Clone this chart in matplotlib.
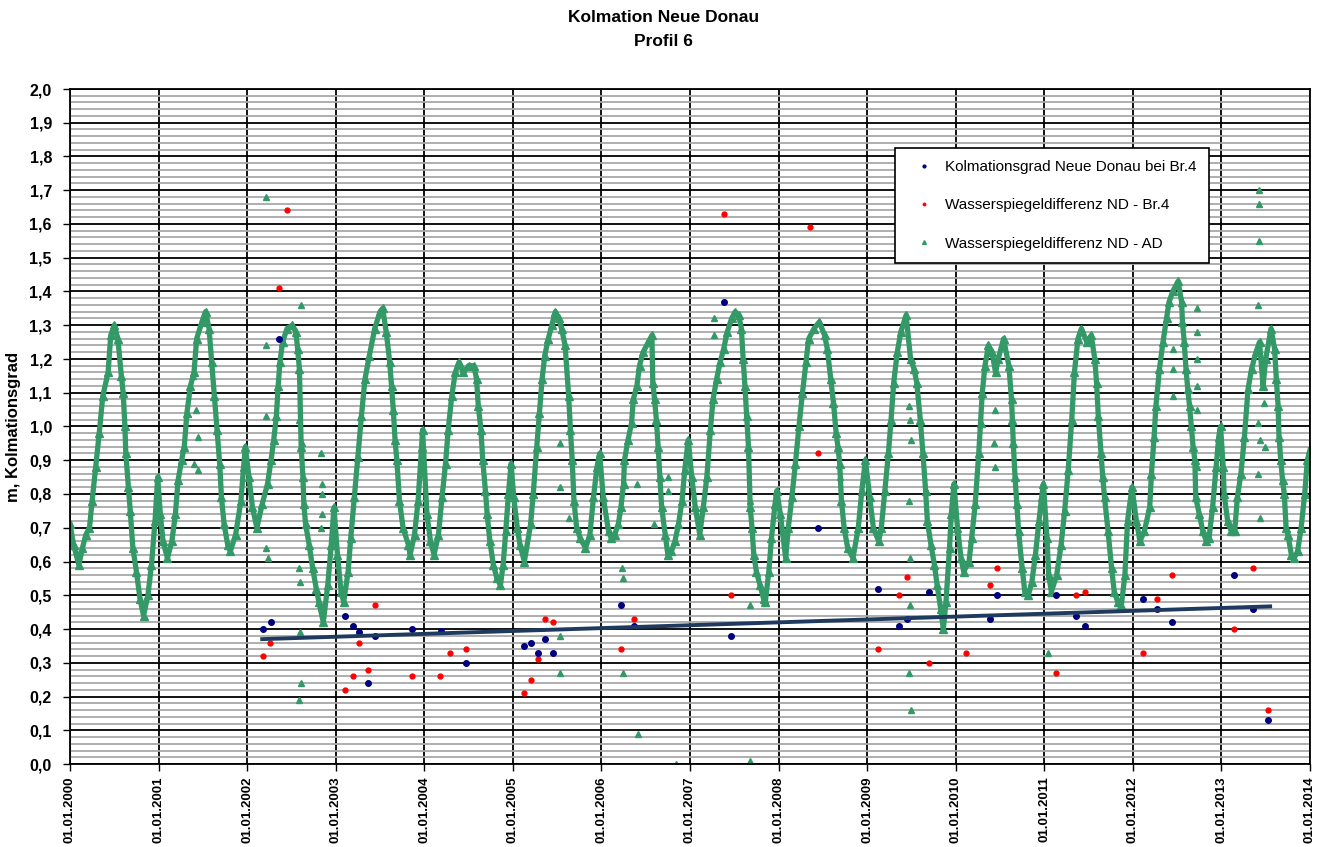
import matplotlib.pyplot as plt
from matplotlib.ticker import MultipleLocator, FixedLocator

plt.rcParams['font.family'] = ['Liberation Sans', 'DejaVu Sans']

# Wasserspiegeldifferenz ND - AD (main seasonal curve)
ad_year = [
    2000.00, 2000.04, 2000.10, 2000.14, 2000.18, 2000.22, 2000.25, 2000.29, 2000.33, 2000.37,
    2000.43, 2000.46, 2000.50, 2000.54, 2000.58, 2000.60, 2000.62, 2000.63, 2000.66, 2000.68,
    2000.71, 2000.75, 2000.79, 2000.83, 2000.88, 2000.92, 2000.96, 2000.99, 2001.02, 2001.05,
    2001.10, 2001.15, 2001.19, 2001.22, 2001.26, 2001.29, 2001.32, 2001.36, 2001.40, 2001.43,
    2001.49, 2001.53, 2001.57, 2001.60, 2001.63, 2001.66, 2001.69, 2001.71, 2001.74, 2001.78,
    2001.81, 2001.87, 2001.93, 2001.96, 2001.98, 2002.02, 2002.06, 2002.11, 2002.17, 2002.23,
    2002.27, 2002.30, 2002.33, 2002.35, 2002.37, 2002.40, 2002.45, 2002.51, 2002.55, 2002.57,
    2002.59, 2002.61, 2002.63, 2002.64, 2002.66, 2002.70, 2002.74, 2002.78, 2002.81, 2002.86,
    2002.91, 2002.95, 2002.98, 2003.02, 2003.06, 2003.09, 2003.14, 2003.17, 2003.21, 2003.25,
    2003.29, 2003.33, 2003.38, 2003.44, 2003.50, 2003.53, 2003.57, 2003.61, 2003.63, 2003.65,
    2003.67, 2003.69, 2003.72, 2003.76, 2003.82, 2003.84, 2003.89, 2003.93, 2003.97, 2003.98,
    2004.03, 2004.07, 2004.11, 2004.16, 2004.20, 2004.24, 2004.27, 2004.31, 2004.35, 2004.39,
    2004.44, 2004.50, 2004.56, 2004.59, 2004.61, 2004.64, 2004.66, 2004.69, 2004.71, 2004.74,
    2004.78, 2004.82, 2004.86, 2004.89, 2004.92, 2004.95, 2004.98, 2005.01, 2005.05, 2005.08,
    2005.13, 2005.20, 2005.23, 2005.27, 2005.30, 2005.33, 2005.36, 2005.40, 2005.44, 2005.48,
    2005.52, 2005.55, 2005.59, 2005.63, 2005.65, 2005.67, 2005.69, 2005.72, 2005.76, 2005.82,
    2005.87, 2005.91, 2005.95, 2005.98, 2006.02, 2006.08, 2006.11, 2006.15, 2006.19, 2006.22,
    2006.25, 2006.26, 2006.30, 2006.34, 2006.36, 2006.40, 2006.43, 2006.47, 2006.53, 2006.57,
    2006.58, 2006.60, 2006.62, 2006.64, 2006.66, 2006.68, 2006.72, 2006.75, 2006.79, 2006.83,
    2006.87, 2006.91, 2006.94, 2006.98, 2007.02, 2007.06, 2007.11, 2007.15, 2007.19, 2007.23,
    2007.26, 2007.30, 2007.34, 2007.38, 2007.42, 2007.47, 2007.51, 2007.55, 2007.58, 2007.60,
    2007.62, 2007.64, 2007.66, 2007.68, 2007.70, 2007.72, 2007.75, 2007.79, 2007.83, 2007.85,
    2007.89, 2007.92, 2007.96, 2007.98, 2008.02, 2008.08, 2008.11, 2008.15, 2008.19, 2008.23,
    2008.27, 2008.31, 2008.34, 2008.40, 2008.46, 2008.52, 2008.55, 2008.59, 2008.62, 2008.65,
    2008.67, 2008.69, 2008.71, 2008.74, 2008.78, 2008.84, 2008.90, 2008.94, 2008.98, 2009.03,
    2009.07, 2009.13, 2009.16, 2009.20, 2009.24, 2009.27, 2009.30, 2009.34, 2009.38, 2009.44,
    2009.49, 2009.53, 2009.56, 2009.60, 2009.63, 2009.66, 2009.68, 2009.72, 2009.76, 2009.79,
    2009.83, 2009.86, 2009.89, 2009.93, 2009.95, 2009.98, 2010.02, 2010.06, 2010.09, 2010.15,
    2010.18, 2010.22, 2010.26, 2010.28, 2010.30, 2010.33, 2010.37, 2010.41, 2010.45, 2010.48,
    2010.54, 2010.60, 2010.63, 2010.64, 2010.65, 2010.67, 2010.69, 2010.71, 2010.75, 2010.78,
    2010.82, 2010.86, 2010.90, 2010.94, 2010.97, 2010.99, 2011.03, 2011.05, 2011.08, 2011.14,
    2011.19, 2011.23, 2011.27, 2011.31, 2011.34, 2011.38, 2011.42, 2011.48, 2011.53, 2011.57,
    2011.59, 2011.61, 2011.64, 2011.66, 2011.68, 2011.72, 2011.76, 2011.79, 2011.83, 2011.87,
    2011.91, 2011.94, 2011.99, 2012.04, 2012.08, 2012.13, 2012.19, 2012.21, 2012.24, 2012.26,
    2012.30, 2012.34, 2012.38, 2012.41, 2012.45, 2012.51, 2012.55, 2012.56, 2012.58, 2012.60,
    2012.62, 2012.64, 2012.66, 2012.68, 2012.70, 2012.71, 2012.75, 2012.79, 2012.83, 2012.86,
    2012.90, 2012.94, 2012.97, 2012.99, 2013.02, 2013.03, 2013.07, 2013.11, 2013.15, 2013.18,
    2013.22, 2013.26, 2013.30, 2013.34, 2013.39, 2013.43, 2013.47, 2013.50, 2013.56, 2013.60,
    2013.62, 2013.64, 2013.65, 2013.67, 2013.69, 2013.71, 2013.73, 2013.75, 2013.79, 2013.82,
    2013.86, 2013.90, 2013.94, 2013.97, 2014.00,
]
ad_val = [
    0.71, 0.65, 0.59, 0.64, 0.68, 0.70, 0.78, 0.88, 0.98, 1.09,
    1.16, 1.27, 1.30, 1.26, 1.15, 1.10, 1.00, 0.92, 0.82, 0.75,
    0.64, 0.57, 0.49, 0.44, 0.50, 0.59, 0.72, 0.85, 0.74, 0.66,
    0.61, 0.66, 0.74, 0.84, 0.90, 0.94, 1.04, 1.12, 1.16, 1.26,
    1.31, 1.34, 1.29, 1.19, 1.09, 0.99, 0.89, 0.79, 0.71, 0.65,
    0.63, 0.68, 0.78, 0.88, 0.94, 0.85, 0.76, 0.70, 0.77, 0.83,
    0.90, 0.96, 1.03, 1.12, 1.19, 1.25, 1.29, 1.30, 1.28, 1.23,
    1.17, 0.94, 0.85, 0.77, 0.71, 0.65, 0.58, 0.52, 0.48, 0.42,
    0.53, 0.65, 0.76, 0.62, 0.51, 0.48, 0.57, 0.67, 0.79, 0.91,
    1.03, 1.14, 1.21, 1.29, 1.34, 1.35, 1.28, 1.19, 1.12, 1.05,
    0.96, 0.90, 0.78, 0.70, 0.65, 0.62, 0.68, 0.78, 0.94, 0.99,
    0.74, 0.66, 0.62, 0.68, 0.79, 0.89, 0.99, 1.09, 1.16, 1.19,
    1.16, 1.18, 1.18, 1.14, 1.06, 0.99, 0.90, 0.81, 0.74, 0.66,
    0.59, 0.55, 0.53, 0.59, 0.69, 0.80, 0.89, 0.79, 0.70, 0.65,
    0.60, 0.71, 0.80, 0.94, 1.04, 1.14, 1.21, 1.26, 1.30, 1.34,
    1.32, 1.29, 1.24, 1.09, 0.99, 0.90, 0.78, 0.70, 0.67, 0.64,
    0.68, 0.79, 0.88, 0.92, 0.79, 0.69, 0.67, 0.68, 0.71, 0.76,
    0.83, 0.90, 0.96, 1.01, 1.08, 1.12, 1.18, 1.22, 1.25, 1.27,
    1.13, 1.08, 1.02, 0.94, 0.85, 0.76, 0.68, 0.62, 0.63, 0.66,
    0.71, 0.78, 0.87, 0.96, 0.85, 0.76, 0.68, 0.76, 0.85, 0.99,
    1.08, 1.14, 1.19, 1.23, 1.28, 1.32, 1.34, 1.33, 1.29, 1.20,
    1.12, 1.03, 0.94, 0.76, 0.70, 0.62, 0.57, 0.53, 0.49, 0.48,
    0.57, 0.67, 0.77, 0.81, 0.74, 0.61, 0.70, 0.79, 0.89, 1.00,
    1.10, 1.19, 1.26, 1.29, 1.31, 1.27, 1.23, 1.14, 1.07, 0.98,
    0.94, 0.89, 0.78, 0.70, 0.64, 0.61, 0.70, 0.81, 0.90, 0.79,
    0.70, 0.66, 0.70, 0.81, 0.92, 1.02, 1.13, 1.22, 1.28, 1.33,
    1.20, 1.17, 1.13, 1.02, 0.92, 0.81, 0.72, 0.65, 0.59, 0.53,
    0.46, 0.40, 0.48, 0.64, 0.74, 0.83, 0.70, 0.61, 0.57, 0.60,
    0.67, 0.77, 0.92, 1.01, 1.10, 1.18, 1.24, 1.22, 1.16, 1.20,
    1.26, 1.18, 1.08, 1.02, 0.95, 0.85, 0.77, 0.69, 0.58, 0.51,
    0.50, 0.54, 0.62, 0.72, 0.79, 0.83, 0.67, 0.56, 0.51, 0.56,
    0.65, 0.75, 0.87, 1.02, 1.16, 1.26, 1.29, 1.25, 1.27, 1.20,
    1.13, 1.03, 0.92, 0.85, 0.79, 0.69, 0.58, 0.51, 0.48, 0.47,
    0.56, 0.72, 0.82, 0.72, 0.66, 0.69, 0.76, 0.86, 0.97, 1.06,
    1.17, 1.25, 1.32, 1.37, 1.40, 1.43, 1.37, 1.31, 1.25, 1.17,
    1.11, 1.06, 1.00, 0.94, 0.90, 0.79, 0.74, 0.69, 0.66, 0.67,
    0.76, 0.88, 0.97, 1.00, 0.88, 0.80, 0.72, 0.69, 0.69, 0.79,
    0.86, 0.97, 1.11, 1.17, 1.22, 1.25, 1.12, 1.20, 1.29, 1.23,
    1.14, 1.06, 0.97, 0.90, 0.84, 0.80, 0.70, 0.68, 0.62, 0.61,
    0.63, 0.70, 0.80, 0.90, 0.93,
]

# scattered single readings of the ND - AD series
ad_out_year = [
    2001.39, 2001.42, 2001.45, 2001.40, 2001.44,
    2002.21, 2002.61, 2002.21, 2002.21, 2002.59, 2002.62, 2002.83, 2002.84, 2002.84, 2002.85,
    2002.83, 2002.21, 2002.23, 2002.59, 2002.60, 2002.60, 2002.61, 2002.59,
    2005.53, 2005.53, 2005.63, 2005.53, 2005.53,
    2006.23, 2006.24, 2006.24, 2006.41, 2006.84, 2006.40, 2006.59, 2006.75, 2006.75,
    2007.27, 2007.27, 2007.68, 2007.68, 2007.68, 2008.69,
    2009.47, 2009.48, 2009.49, 2009.47, 2009.48, 2009.48, 2009.47, 2009.49,
    2010.44, 2010.43, 2010.44, 2011.04,
    2012.45, 2012.45, 2012.45, 2012.72, 2012.72, 2012.72, 2012.72, 2012.72, 2012.72,
    2013.42, 2013.42, 2013.42, 2013.41, 2013.41, 2013.43, 2013.41, 2013.43, 2013.48, 2013.49,
]
ad_out_val = [
    1.15, 1.05, 0.97, 0.89, 0.87,
    1.68, 1.36, 1.24, 1.03, 1.02, 0.95, 0.92, 0.83, 0.80, 0.74,
    0.70, 0.64, 0.61, 0.58, 0.54, 0.39, 0.24, 0.19,
    0.95, 0.82, 0.73, 0.38, 0.27,
    0.58, 0.55, 0.27, 0.09, 0.00, 0.83, 0.71, 0.85, 0.81,
    1.32, 1.27, 0.78, 0.47, 0.01, 0.85,
    1.06, 1.02, 0.96, 0.78, 0.61, 0.47, 0.27, 0.16,
    1.05, 0.95, 0.88, 0.33,
    1.23, 1.17, 1.09, 1.35, 1.28, 1.20, 1.12, 1.05, 0.88,
    1.70, 1.66, 1.55, 1.36, 1.01, 0.96, 0.86, 0.73, 1.07, 0.94,
]

# Kolmationsgrad Neue Donau bei Br.4
kolm_year = [
    2002.18, 2002.27, 2002.36, 2003.11, 2003.19, 2003.26, 2003.36, 2003.44, 2003.86, 2004.19,
    2004.47, 2005.13, 2005.21, 2005.28, 2005.36, 2005.45, 2006.22, 2006.37, 2007.38, 2007.46,
    2008.44, 2009.12, 2009.36, 2009.45, 2009.70, 2010.39, 2010.47, 2011.13, 2011.36, 2011.46,
    2012.12, 2012.27, 2012.44, 2013.14, 2013.36, 2013.53,
]
kolm_val = [
    0.40, 0.42, 1.26, 0.44, 0.41, 0.39, 0.24, 0.38, 0.40, 0.395,
    0.30, 0.35, 0.36, 0.33, 0.37, 0.33, 0.47, 0.41, 1.37, 0.38,
    0.70, 0.52, 0.41, 0.43, 0.51, 0.43, 0.50, 0.50, 0.44, 0.41,
    0.49, 0.46, 0.42, 0.56, 0.46, 0.13,
]

# Wasserspiegeldifferenz ND - Br.4
br4_year = [
    2002.18, 2002.26, 2002.36, 2002.45, 2003.11, 2003.19, 2003.26, 2003.36, 2003.44, 2003.86,
    2004.18, 2004.29, 2004.47, 2005.13, 2005.21, 2005.28, 2005.36, 2005.45, 2006.22, 2006.37,
    2007.38, 2007.46, 2008.35, 2008.44, 2009.12, 2009.36, 2009.45, 2009.70, 2010.12, 2010.39,
    2010.47, 2011.13, 2011.36, 2011.46, 2012.12, 2012.27, 2012.44, 2013.14, 2013.36, 2013.53,
]
br4_val = [
    0.32, 0.36, 1.41, 1.64, 0.22, 0.26, 0.36, 0.28, 0.47, 0.26,
    0.26, 0.33, 0.34, 0.21, 0.25, 0.31, 0.43, 0.42, 0.34, 0.43,
    1.63, 0.50, 1.59, 0.92, 0.34, 0.50, 0.555, 0.30, 0.33, 0.53,
    0.58, 0.27, 0.50, 0.51, 0.33, 0.49, 0.56, 0.40, 0.58, 0.16,
]

# linear trend of Kolmationsgrad
trend_year = [2002.17, 2013.55]
trend_val = [0.37, 0.467]

years = list(range(2000, 2015))
year_labels = [f"01.01.{y}" for y in years]

green = '#339966'

fig = plt.figure(figsize=(13.27, 8.47), dpi=100)
ax = fig.add_axes([70 / 1327, 1 - 764 / 847, 1240 / 1327, 675 / 847])

ax.set_xlim(2000, 2014)
ax.set_ylim(0, 2.0)

# grid
ax.yaxis.set_major_locator(MultipleLocator(0.1))
ax.yaxis.set_minor_locator(MultipleLocator(0.02))
ax.xaxis.set_major_locator(FixedLocator(years))
ax.grid(True, which='minor', axis='y', color='#a8a8a8', lw=1.3, zorder=0)
ax.grid(True, which='major', axis='y', color='black', lw=1.3, zorder=0)
ax.grid(True, which='major', axis='x', color='black', lw=1.3, zorder=0)
ax.set_axisbelow(True)

ax.plot(ad_year, ad_val, color=green, lw=3.8, zorder=2)
ax.plot(ad_year, ad_val, '^', color=green, ms=5.5, zorder=2,
        label='Wasserspiegeldifferenz ND - AD')
ax.plot(ad_out_year, ad_out_val, '^', color=green, ms=5, zorder=2)

ax.plot(br4_year, br4_val, 'o', color='#ff0000', ms=3.5, zorder=3,
        label='Wasserspiegeldifferenz ND - Br.4')
ax.plot(kolm_year, kolm_val, 'o', color='#000080', ms=4, zorder=3,
        label='Kolmationsgrad Neue Donau bei Br.4')
ax.plot(trend_year, trend_val, color='#1f3a5f', lw=2.8, zorder=4)

ax.set_yticks([i / 10 for i in range(21)])
ax.set_yticklabels([f"{i / 10:.1f}".replace('.', ',') for i in range(21)],
                   fontsize=11.5, fontweight='bold')
ax.set_xticks(years)
ax.set_xticklabels(year_labels, rotation=90, fontsize=9.5, fontweight='bold')
ax.tick_params(axis='y', which='minor', length=0)
ax.tick_params(axis='y', which='major', length=5, width=1, color='black', pad=8)
ax.tick_params(axis='x', which='major', length=5, width=1, color='black', pad=4)
ax.set_ylabel('m, Kolmationsgrad', fontsize=12, fontweight='bold', labelpad=6)
for s in ax.spines.values():
    s.set_color('black')
    s.set_linewidth(1.3)

handles, labels = ax.get_legend_handles_labels()
order = [2, 1, 0]
leg = ax.legend([handles[i] for i in order], [labels[i] for i in order],
                loc='upper left', bbox_to_anchor=(0.665, 0.913), fontsize=11,
                markerscale=0.5, labelspacing=1.6, borderpad=0.8,
                borderaxespad=0, handlelength=2.3, handletextpad=0.2,
                fancybox=False, framealpha=1, edgecolor='black')
leg.get_frame().set_linewidth(1.2)

fig.text(0.5, 1 - 17 / 847, 'Kolmation Neue Donau', ha='center', va='center',
         fontsize=12.5, fontweight='bold')
fig.text(0.5, 1 - 42 / 847, 'Profil 6', ha='center', va='center',
         fontsize=12.5, fontweight='bold')

fig.savefig('out.png', dpi=100)
